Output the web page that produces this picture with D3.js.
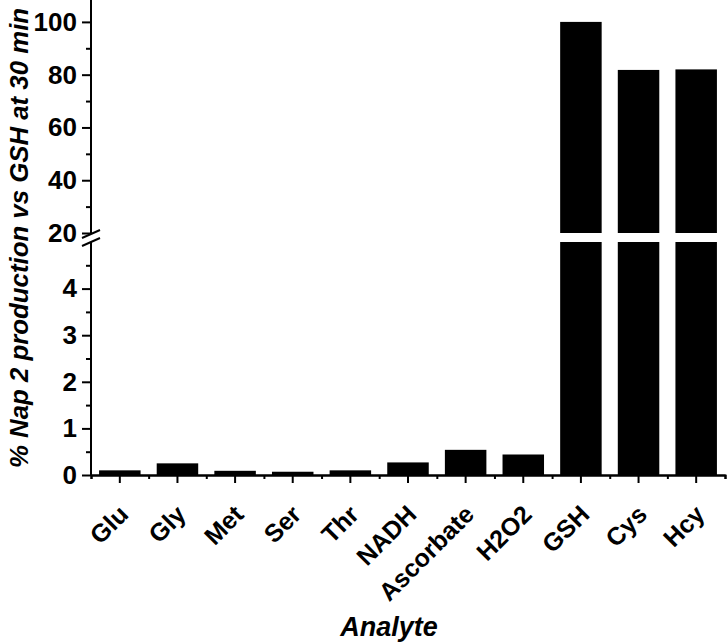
<!DOCTYPE html>
<html>
<head>
<meta charset="utf-8">
<script src="https://cdn.jsdelivr.net/npm/d3@7"></script>
<style>
  body { margin: 0; background: #fff; }
  text { font-family: "Liberation Sans", Arial, sans-serif; font-weight: bold; fill: #000; }
</style>
</head>
<body>
<div id="chart"></div>
<script>
// Data
const analytes = ["Glu", "Gly", "Met", "Ser", "Thr", "NADH", "Ascorbate", "H2O2", "GSH", "Cys", "Hcy"];
const production = [0.1, 0.25, 0.09, 0.07, 0.1, 0.27, 0.54, 0.44, 100, 81.8, 82];
const lowTicks = [0, 1, 2, 3, 4];
const lowMinor = [0.5, 1.5, 2.5, 3.5, 4.5];
const highTicks = [20, 40, 60, 80, 100];
const highMinor = [30, 50, 70, 90];

const width = 728, height = 643;
const left = 91, right = 725, bottom = 475;

const svg = d3.select("#chart")
    .append("svg")
    .attr("width", width)
    .attr("height", height);

// x scale: one band per analyte
const x = d3.scaleBand()
    .domain(analytes)
    .range([left, right])
    .paddingInner(0.28)
    .paddingOuter(0.14);

// two y segments with a break between them
const yLow = d3.scaleLinear().domain([0, 5]).range([bottom, 242]);
const yHigh = d3.scaleLinear().domain([20, 108.3]).range([233, 0]);

const data = analytes.map((a, i) => ({name: a, value: production[i]}));

// lower part of every bar
svg.selectAll(".barLow")
    .data(data)
    .enter().append("rect")
    .attr("class", "barLow")
    .attr("x", d => x(d.name))
    .attr("width", x.bandwidth())
    .attr("y", d => yLow(Math.min(d.value, 5)))
    .attr("height", d => yLow(0) - yLow(Math.min(d.value, 5)))
    .attr("fill", "#000");

// upper part for bars that pass the break
svg.selectAll(".barHigh")
    .data(data.filter(d => d.value > 20))
    .enter().append("rect")
    .attr("class", "barHigh")
    .attr("x", d => x(d.name))
    .attr("width", x.bandwidth())
    .attr("y", d => yHigh(d.value))
    .attr("height", d => yHigh(20) - yHigh(d.value))
    .attr("fill", "#000");

function styleAxis(g) {
    g.selectAll("path, line").attr("stroke", "#000").attr("stroke-width", 2);
    g.selectAll("text").style("font-size", "26px").attr("fill", "#000");
}

// y axis, lower segment
svg.append("g")
    .attr("transform", `translate(${left},0)`)
    .call(d3.axisLeft(yLow).tickValues(lowTicks).tickFormat(d3.format("d"))
        .tickSize(9).tickPadding(5).tickSizeOuter(0))
    .call(styleAxis)
    .call(g => g.select(".domain").attr("d", `M0,${bottom}V242`));

svg.append("g")
    .attr("transform", `translate(${left},0)`)
    .call(d3.axisLeft(yLow).tickValues(lowMinor).tickSize(5).tickFormat(""))
    .call(styleAxis)
    .call(g => g.select(".domain").remove());

// y axis, upper segment
svg.append("g")
    .attr("transform", `translate(${left},0)`)
    .call(d3.axisLeft(yHigh).tickValues(highTicks).tickFormat(d3.format("d"))
        .tickSize(9).tickPadding(5).tickSizeOuter(0))
    .call(styleAxis)
    .call(g => g.select(".domain").attr("d", `M0,233V0`));

svg.append("g")
    .attr("transform", `translate(${left},0)`)
    .call(d3.axisLeft(yHigh).tickValues(highMinor).tickSize(5).tickFormat(""))
    .call(styleAxis)
    .call(g => g.select(".domain").remove());

// break marks
const brk = svg.append("g").attr("stroke", "#000").attr("stroke-width", 2);
[0, 8].forEach(off => {
    brk.append("line")
        .attr("x1", left - 9).attr("y1", 238 + off)
        .attr("x2", left + 9).attr("y2", 230 + off);
});

// x axis: major ticks at centres, minor at band edges
svg.append("g")
    .attr("transform", `translate(0,${bottom})`)
    .call(d3.axisBottom(x).tickSize(8).tickSizeOuter(0).tickFormat(""))
    .call(styleAxis);

const edge = d3.scaleLinear().domain([0, analytes.length]).range([left, right]);
svg.append("g")
    .attr("transform", `translate(0,${bottom})`)
    .call(d3.axisBottom(edge).tickValues(d3.range(0, analytes.length + 1)).tickSize(4).tickFormat(""))
    .call(styleAxis);

// rotated category labels
svg.selectAll(".xlabel")
    .data(analytes)
    .enter().append("text")
    .attr("class", "xlabel")
    .attr("text-anchor", "end")
    .style("font-size", "25px")
    .attr("transform", d => `translate(${x(d) + x.bandwidth() / 2 + 10},${bottom + 41}) rotate(-45)`)
    .text(d => d);

// axis titles
svg.append("text")
    .attr("text-anchor", "middle")
    .style("font-size", "27px")
    .style("font-style", "italic")
    .attr("x", 389)
    .attr("y", 636)
    .text("Analyte");

svg.append("text")
    .attr("text-anchor", "middle")
    .style("font-size", "25.8px")
    .style("font-style", "italic")
    .attr("transform", "translate(28,238) rotate(-90)")
    .text("% Nap 2 production vs GSH at 30 min");
</script>
</body>
</html>
